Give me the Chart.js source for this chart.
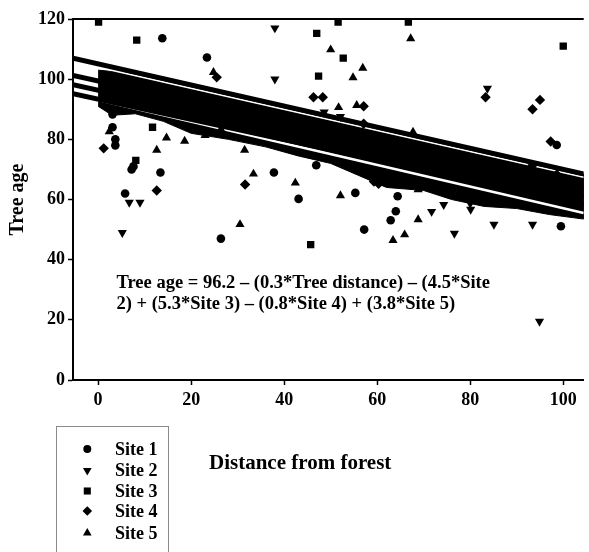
<!DOCTYPE html>
<html>
<head>
<meta charset="utf-8">
<script src="https://cdn.jsdelivr.net/npm/chart.js@4.4.1/dist/chart.umd.min.js"></script>
<style>
html,body{margin:0;padding:0;background:#fff;}
#wrap{position:relative;width:589px;height:552px;}
</style>
</head>
<body>
<div id="wrap"><canvas id="c" width="589" height="552"></canvas></div>
<script>
// ---- axes ----
const xMin = -5.4, xMax = 104.4;
const xTicks = [0, 20, 40, 60, 80, 100];
const yTicks = [0, 20, 40, 60, 80, 100, 120];

// ---- labels ----
const siteNames = ['Site 1', 'Site 2', 'Site 3', 'Site 4', 'Site 5'];
const xTitle = 'Distance from forest';
const yTitle = 'Tree age';
const equationLines = [
  'Tree age = 96.2 \u2013 (0.3*Tree distance) \u2013 (4.5*Site',
  '2) + (5.3*Site 3) \u2013 (0.8*Site 4) + (3.8*Site 5)'
];

// ---- scattered trees ----
const site1X = [13.8, 23.4, 3.1, 3.1, 3.7, 3.7, 7.2, 7.6, 13.4, 5.8, 26.4, 37.8, 43.1, 46.9, 55.3, 64.4, 64.0, 62.9, 57.2, 99.5, 98.6];
const site1Y = [113.6, 107.2, 88.3, 84.0, 80.0, 78.0, 70.0, 71.0, 69.0, 62.0, 47.0, 69.0, 60.2, 71.4, 62.2, 61.1, 56.1, 53.1, 50.0, 51.1, 78.1];

const site2X = [38.0, 38.0, 5.2, 6.7, 9.0, 48.6, 52.1, 83.7, 71.7, 74.3, 76.6, 80.0, 80.1, 85.1, 93.4, 94.9];
const site2Y = [117.0, 100.0, 49.0, 59.0, 59.0, 89.0, 87.5, 96.9, 56.0, 58.3, 48.7, 58.7, 56.7, 51.7, 51.7, 19.5];

const site3X = [0.1, 8.3, 11.7, 8.1, 51.6, 66.7, 47.0, 52.7, 47.4, 100.0, 45.7];
const site3Y = [119.0, 113.0, 84.0, 73.0, 119.0, 119.0, 115.2, 107.0, 101.0, 111.0, 45.0];

const site4X = [25.5, 1.2, 12.6, 31.6, 46.3, 48.3, 57.1, 57.1, 83.3, 93.4, 95.0, 97.3, 93.4, 98.6, 59.3, 60.3];
const site4Y = [100.6, 77.0, 63.0, 65.0, 94.0, 94.0, 91.0, 85.2, 94.0, 90.0, 93.1, 79.3, 71.4, 68.3, 66.0, 65.2];

const site5X = [24.8, 2.4, 14.7, 18.6, 23.0, 26.4, 12.6, 30.5, 33.4, 31.5, 42.4, 50.0, 56.9, 54.8, 67.2, 51.7, 55.6, 67.7, 52.1, 63.4, 65.9, 68.8, 68.8];
const site5Y = [102.3, 82.6, 80.5, 79.4, 81.3, 83.3, 76.4, 51.7, 68.5, 76.4, 65.5, 109.8, 103.7, 100.5, 113.5, 90.6, 91.3, 82.4, 61.3, 46.4, 48.3, 53.3, 63.3];

// ---- fitted site lines (values read at the left and right plot edges) ----
const fitLeftY  = [107.0, 101.2, 98.2, 95.2];
const fitRightY = [68.5, 63.8, 60.8, 58.2];

// ---- white gaps seen inside the dense band ----
const gapStartX = [0, 0];
const gapStartY = [104.0, 93.1];
const gapEndY   = [67.4, 55.5];

// ---- dense band of overlapping trees (outline) ----
const bandTopX = [0, 10, 50, 104.4];
const bandTopY = [103.0, 101.6, 87.6, 68.5];
const bandBottomX = [0, 3, 8, 14, 20, 28, 36, 43, 50, 56, 62, 70, 76, 83, 90, 97, 104.4];
const bandBottomY = [91.0, 88.0, 88.5, 86.0, 82.0, 80.0, 77.5, 74.5, 72.0, 68.0, 64.0, 63.0, 60.0, 57.7, 57.0, 55.0, 53.5];

// ---- build ----
const siteX = [site1X, site2X, site3X, site4X, site5X];
const siteY = [site1Y, site2Y, site3Y, site4Y, site5Y];
const siteStyles = ['circle', 'triangle', 'rect', 'rectRot', 'triangle'];
const siteRot = [0, 180, 0, 0, 0];
const siteRadius = [4.3, 5.3, 5.2, 5.2, 5.3];

const zip = (xs, ys) => xs.map((x, i) => ({x: x, y: ys[i]}));

const datasets = [];
siteNames.forEach((name, i) => {
  datasets.push({
    type: 'scatter', label: name, data: zip(siteX[i], siteY[i]),
    pointStyle: siteStyles[i], rotation: siteRot[i], radius: siteRadius[i],
    pointRadius: siteRadius[i], backgroundColor: '#000', borderColor: '#000', borderWidth: 0
  });
});
fitLeftY.forEach((v, i) => {
  datasets.push({
    type: 'line', label: 'fit' + (i + 1),
    data: [{x: xMin, y: v}, {x: xMax, y: fitRightY[i]}],
    borderColor: '#000', borderWidth: 5, pointRadius: 0, fill: false, tension: 0, clip: 0
  });
});
gapStartY.forEach((v, i) => {
  datasets.push({
    type: 'line', label: 'gap' + (i + 1),
    data: [{x: gapStartX[i], y: v}, {x: xMax, y: gapEndY[i]}],
    borderColor: '#fff', borderWidth: i === 0 ? 1.6 : 2.6, pointRadius: 0, fill: false, tension: 0, clip: 0
  });
});
datasets.push({
  type: 'line', label: 'band',
  data: zip(bandTopX, bandTopY).concat(zip(bandBottomX, bandBottomY).reverse()),
  borderColor: '#000', borderWidth: 1, backgroundColor: '#000',
  pointRadius: 0, fill: 'shape', tension: 0, parsing: true
});

const FONT = '"Liberation Serif", "Times New Roman", serif';

function drawMarker(ctx, style, rot, r, x, y) {
  ctx.save();
  ctx.fillStyle = '#000';
  ctx.strokeStyle = '#000';
  if (Chart.helpers && Chart.helpers.drawPoint) {
    Chart.helpers.drawPoint(ctx, {pointStyle: style, rotation: rot, radius: r, borderWidth: 0}, x, y);
  } else {
    ctx.beginPath();
    ctx.arc(x, y, r, 0, Math.PI * 2);
    ctx.fill();
  }
  ctx.restore();
}

const decor = {
  id: 'decor',
  afterDraw(chart) {
    const ctx = chart.ctx;
    const a = chart.chartArea;
    ctx.save();
    // top frame line
    ctx.strokeStyle = '#000';
    ctx.lineWidth = 2;
    ctx.beginPath();
    ctx.moveTo(a.left - 1, a.top);
    ctx.lineTo(a.right, a.top);
    ctx.stroke();

    // equation
    ctx.fillStyle = '#000';
    ctx.font = 'bold 18.5px ' + FONT;
    ctx.textBaseline = 'middle';
    ctx.textAlign = 'left';
    ctx.fillText(equationLines[0], 116.5, 283);
    ctx.fillText(equationLines[1], 116.5, 304);

    // x title
    ctx.font = 'bold 21px ' + FONT;
    ctx.fillText(xTitle, 209, 464);

    // legend box
    ctx.strokeStyle = '#8a8a8a';
    ctx.lineWidth = 1;
    ctx.strokeRect(56.5, 426.5, 112, 140);
    ctx.font = 'bold 18px ' + FONT;
    const rowY = [449, 470.5, 491, 511, 533];
    const legR = [4.0, 5.0, 5.0, 4.8, 5.0];
    siteNames.forEach((n, i) => {
      drawMarker(ctx, siteStyles[i], siteRot[i], legR[i], 87.3, rowY[i]);
      ctx.fillStyle = '#000';
      ctx.fillText(n, 115, rowY[i] + 1);
    });
    ctx.restore();
  }
};

new Chart(document.getElementById('c'), {
  type: 'scatter',
  data: {datasets: datasets},
  options: {
    responsive: false,
    animation: false,
    devicePixelRatio: 1,
    layout: {padding: {top: 19, left: 0, right: 0, bottom: 0}},
    plugins: {legend: {display: false}, tooltip: {enabled: false}, title: {display: false}},
    scales: {
      x: {
        type: 'linear', min: xMin, max: xMax,
        afterBuildTicks: (s) => { s.ticks = xTicks.map(v => ({value: v})); },
        afterFit: (s) => { s.height = 172; },
        border: {display: true, color: '#000', width: 2},
        grid: {display: true, drawOnChartArea: false, drawTicks: true, tickLength: 5, tickColor: '#000', tickWidth: 1.5},
        ticks: {color: '#000', padding: 5, font: {family: FONT, size: 18, weight: 'bold'}, maxRotation: 0, autoSkip: false}
      },
      y: {
        type: 'linear', min: 0, max: 120,
        afterBuildTicks: (s) => { s.ticks = yTicks.map(v => ({value: v})); },
        afterFit: (s) => { s.width = 73; },
        border: {display: true, color: '#000', width: 2},
        grid: {display: true, drawOnChartArea: false, drawTicks: true, tickLength: 5, tickColor: '#000', tickWidth: 1.5},
        ticks: {color: '#000', padding: 3, font: {family: FONT, size: 18, weight: 'bold'}},
        title: {display: true, text: yTitle, color: '#000', font: {family: FONT, size: 20, weight: 'bold'}, padding: {top: 6, bottom: 0}}
      }
    }
  },
  plugins: [decor]
});
</script>
</body>
</html>
